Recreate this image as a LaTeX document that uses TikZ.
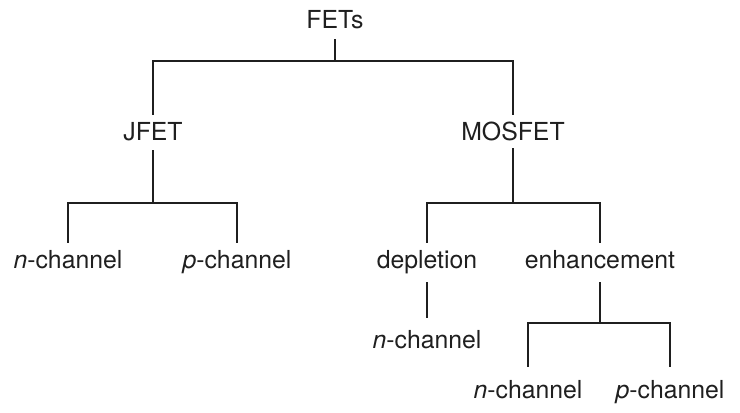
\documentclass[tikz,border=0pt]{standalone}
\usepackage{fontspec}
\setmainfont{TeX Gyre Heros}
\begin{document}
\begin{tikzpicture}[x=0.75pt,y=-0.75pt,
  lbl/.style={font=\fontsize{18.6pt}{22pt}\selectfont, inner sep=0pt,
    text height=13.5pt, text depth=3.75pt, anchor=base, text=black!88},
  conn/.style={line width=1.5pt, draw=black!88},
  thinconn/.style={line width=0.9pt, draw=black!88}]
\useasboundingbox (0,0) rectangle (740,412);
% nodes
\node[lbl] (fets) at (335,28) {FETs};
\node[lbl] (jfet) at (153,140) {JFET};
\node[lbl] (mosfet) at (513,140) {MOSFET};
\node[lbl] (jn) at (68,268) {\textit{n}-channel};
\node[lbl] (jp) at (237,268) {\textit{p}-channel};
\node[lbl] (depl) at (427,268) {depletion};
\node[lbl] (enh) at (600,268) {enhancement};
\node[lbl] (dn) at (427,348) {\textit{n}-channel};
\node[lbl] (en) at (528,398) {\textit{n}-channel};
\node[lbl] (ep) at (670,398) {\textit{p}-channel};
% junctions
\coordinate (j1) at (335,61);
\coordinate (j2) at (153,203);
\coordinate (j3) at (513,203);
\coordinate (j4) at (600,323);
% connectors
\draw[conn, shorten <=6pt*0.75] (fets.south) -- (j1);
\draw[conn, shorten >=7pt*0.75] (j1) -| (jfet.north);
\draw[conn, shorten >=7pt*0.75] (j1) -| (mosfet.north);
\draw[thinconn, shorten <=5pt*0.75] (jfet.south) -- (j2);
\draw[thinconn, shorten <=3pt*0.75] (mosfet.south) -- (j3);
\draw[conn, shorten >=7pt*0.75] (j2) -| (jn.north);
\draw[conn, shorten >=7pt*0.75] (j2) -| (jp.north);
\draw[conn, shorten >=7pt*0.75] (j3) -| (depl.north);
\draw[conn, shorten >=7pt*0.75] (j3) -| (enh.north);
\draw[conn, shorten <=9pt*0.75, shorten >=12pt*0.75] (depl.south) -- (dn.north);
\draw[conn, shorten <=9pt*0.75] (enh.south) -- (j4);
\draw[conn, shorten >=13pt*0.75] (j4) -| (en.north);
\draw[conn, shorten >=13pt*0.75] (j4) -| (ep.north);
\end{tikzpicture}
\end{document}
